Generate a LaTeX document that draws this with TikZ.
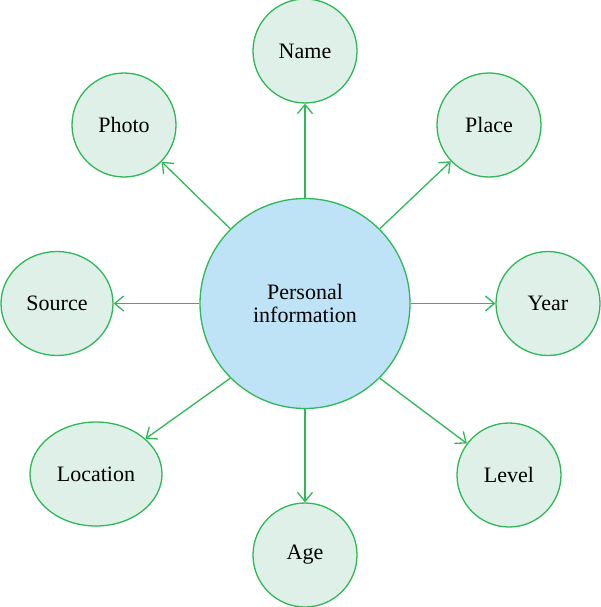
\documentclass[tikz,border=0pt]{standalone}
\usepackage{fontspec}
\setmainfont{Liberation Serif}
\usepackage{xcolor}
\usepackage{tikz}
\usetikzlibrary{arrows.meta, shapes.geometric, positioning}

\definecolor{lineGreen}{RGB}{45,185,85}
\definecolor{leafFill}{RGB}{222,240,232}
\definecolor{hubFill}{RGB}{190,226,246}

\begin{document}
\begin{tikzpicture}[x=1pt, y=-1pt,
    >={Straight Barb[length=9pt, width=15pt]},
    leaf/.style={ellipse, draw=lineGreen, fill=leafFill, line width=1.3pt,
        minimum width=104pt, minimum height=104pt, inner sep=0pt,
        font=\fontsize{22}{26}\selectfont},
    hub/.style={circle, draw=lineGreen, fill=hubFill, line width=1.3pt,
        minimum size=210pt, inner sep=0pt, align=center,
        font=\fontsize{22}{26}\selectfont},
    link/.style={->, draw=lineGreen, line width=1.3pt}]

    % 1. Khung
    \useasboundingbox (0,0) rectangle (600,607);

    % 2. Nút trung tâm
    \node[hub] (info) at (305,303.5) {Personal\\[-3pt]information};

    % 3. Các nút xung quanh
    \node[leaf] (name) at (305,51) {Name};
    \node[leaf] (photo) at (124,125) {Photo};
    \node[leaf] (place) at (489,125) {Place};
    \node[leaf, minimum width=112pt] (source) at (57,303.5) {Source};
    \node[leaf] (year) at (548,303.5) {Year};
    \node[leaf, minimum width=132pt] (location) at (96,474) {Location};
    \node[leaf] (level) at (509,475) {Level};
    \node[leaf] (age) at (305,555) {Age};

    % 4. Mũi tên
    \foreach \t in {name, source, year, age}
        \draw[link] (info) -- (\t);
    \foreach \a/\t in {135/photo, 45/place, 225/location, -45/level}
        \draw[link] (info.\a) -- (\t);
\end{tikzpicture}
\end{document}
